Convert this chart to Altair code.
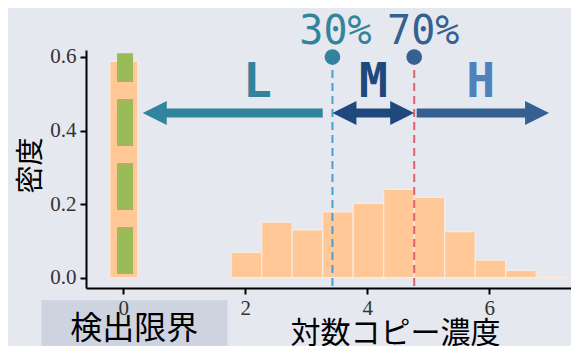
import altair as alt
import pandas as pd

# ---- data ----
bin_left = [1.77, 2.27, 2.77, 3.27, 3.77, 4.27, 4.77, 5.27, 5.77, 6.27, 6.77]
bin_density = [0.069, 0.151, 0.130, 0.179, 0.202, 0.240, 0.218, 0.125, 0.048, 0.020, 0.004]
bin_width = 0.5

lod_left = [-0.22]
lod_right = [0.24]
lod_density = [0.588]
lod_marker_x = [0.03]
lod_marker_bottom = [0.01]
lod_marker_top = [0.61]
lod_label = ["検出限界"]
lod_box_left = [-1.34]
lod_box_right = [1.71]
lod_label_x = [0.18]

pct_labels = ["30%", "70%"]
pct_values = [3.43, 4.77]
pct_marker_y = [0.6, 0.6]
pct_colors = ["#31849b", "#376092"]
pct_line_colors = ["#4a9fd6", "#e0606e"]
pct_label_dx = [3, 9]

region_labels = ["L", "M", "H"]
region_label_x = [2.2, 4.1, 5.86]
region_label_y = [0.492, 0.492, 0.492]
region_colors = ["#31849b", "#1f497d", "#4f81bd"]

arrow_from = [3.27, 3.43, 4.81]
arrow_to = [0.32, 4.77, 6.98]
arrow_y = [0.448, 0.448, 0.448]
arrow_double = [False, True, False]
arrow_colors = ["#31849b", "#1f497d", "#376092"]

x_ticks = [0, 2, 4, 6]
y_ticks = [0.0, 0.2, 0.4, 0.6]

BG = "#e5e8ef"
X_DOMAIN = [-0.61, 7.34]
Y_DOMAIN = [-0.028, 0.619]

xs = alt.Scale(domain=X_DOMAIN, nice=False, zero=False)
ys = alt.Scale(domain=Y_DOMAIN, nice=False, zero=False)

x_axis = alt.Axis(
    values=x_ticks, format="d", title="対数コピー濃度",
    titleFont="Noto Sans CJK JP", titleFontSize=30, titleFontWeight="normal",
    titleColor="black", titleX=309, titleY=54, titleAlign="center",
    titleBaseline="alphabetic",
    labelFont="Liberation Serif", labelFontSize=21, labelColor="#333333",
    labelPadding=3, domainColor="black", domainWidth=2, tickColor="black",
    tickWidth=2, tickSize=6, grid=False, zindex=1,
)
y_axis = alt.Axis(
    values=y_ticks, format=".1f", title="密度",
    titleFont="Noto Sans CJK JP", titleFontSize=28, titleFontWeight="normal",
    titleColor="black", titleAngle=270, titleX=-47, titleY=115,
    titleAlign="center", titleBaseline="alphabetic",
    labelFont="Liberation Serif", labelFontSize=21, labelColor="#333333",
    labelPadding=4, domainColor="black", domainWidth=2, tickColor="black",
    tickWidth=2, tickSize=6, grid=False, zindex=1,
)


def X(f):
    return alt.X(f"{f}:Q", scale=xs, axis=x_axis)


def Y(f):
    return alt.Y(f"{f}:Q", scale=ys, axis=y_axis)


layers = []

# detection-limit box below the axis
box_df = pd.DataFrame({"x0": lod_box_left, "x1": lod_box_right,
                       "y0": [Y_DOMAIN[0] - 0.033], "y1": [Y_DOMAIN[0] - 0.4],
                       "label": lod_label, "lx": lod_label_x,
                       "ly": [Y_DOMAIN[0] - 0.139]})
layers.append(alt.Chart(box_df).mark_rect(color="#cdd4e0").encode(
    x=X("x0"), x2="x1", y=Y("y0"), y2="y1"))
layers.append(alt.Chart(box_df).mark_text(
    font="Noto Sans CJK JP", fontSize=32, color="black",
    align="center", baseline="alphabetic").encode(
    x=X("lx"), y=Y("ly"), text="label:N"))

# histogram
hist_df = pd.DataFrame({"x0": bin_left,
                        "x1": [b + bin_width for b in bin_left],
                        "d": bin_density, "base": [0.0] * len(bin_left)})
layers.append(alt.Chart(hist_df).mark_rect(
    color="#ffc896", stroke="#f7ece2", strokeWidth=1.2).encode(
    x=X("x0"), x2="x1", y=Y("base"), y2="d"))

# zero (below detection limit) bar
zero_df = pd.DataFrame({"x0": lod_left, "x1": lod_right, "d": lod_density,
                        "base": [0.0]})
layers.append(alt.Chart(zero_df).mark_rect(
    color="#ffc896", stroke="#f7ece2", strokeWidth=1.2).encode(
    x=X("x0"), x2="x1", y=Y("base"), y2="d"))

# green dashed marker
mk_df = pd.DataFrame({"x": lod_marker_x, "y0": lod_marker_bottom,
                      "y1": lod_marker_top})
layers.append(alt.Chart(mk_df).mark_rule(
    color="#9bbb59", strokeWidth=16, strokeDash=[47, 17]).encode(
    x=X("x"), y=Y("y0"), y2="y1"))

# percentile lines, dots and labels
for lab, v, my, c, lc, dx in zip(pct_labels, pct_values, pct_marker_y,
                                 pct_colors, pct_line_colors, pct_label_dx):
    df = pd.DataFrame({"x": [v], "y": [my], "ybot": [Y_DOMAIN[0]],
                       "label": [lab]})
    layers.append(alt.Chart(df).mark_rule(
        color=lc, strokeWidth=2, strokeDash=[8, 5]).encode(
        x=X("x"), y=Y("y"), y2="ybot"))
    layers.append(alt.Chart(df).mark_circle(
        color=c, size=245, opacity=1).encode(x=X("x"), y=Y("y")))
    layers.append(alt.Chart(df).mark_text(
        font="DejaVu Sans Mono", fontSize=40, color=c, align="center",
        baseline="alphabetic", dx=dx, dy=-13).encode(
        x=X("x"), y=Y("y"), text="label:N"))

# arrows
HEAD_L = "M-1,0L1,-1L1,1Z"
HEAD_R = "M1,0L-1,-1L-1,1Z"
for a, b, y, dbl, c in zip(arrow_from, arrow_to, arrow_y, arrow_double,
                           arrow_colors):
    df = pd.DataFrame({"a": [a], "b": [b], "y": [y]})
    sgn = 1 if b > a else -1
    layers.append(alt.Chart(df).mark_rule(
        color=c, strokeWidth=9, x2Offset=-12 * sgn,
        xOffset=(12 * sgn if dbl else 0)).encode(
        x=X("a"), x2="b", y=Y("y")))
    layers.append(alt.Chart(df).mark_point(
        shape=HEAD_R if sgn > 0 else HEAD_L, filled=True, fill=c,
        strokeWidth=0, size=576, opacity=1, xOffset=-12 * sgn).encode(
        x=X("b"), y=Y("y")))
    if dbl:
        layers.append(alt.Chart(df).mark_point(
            shape=HEAD_L if sgn > 0 else HEAD_R, filled=True, fill=c,
            strokeWidth=0, size=576, opacity=1, xOffset=12 * sgn).encode(
            x=X("a"), y=Y("y")))

# region labels
for lab, lx, ly, c in zip(region_labels, region_label_x, region_label_y,
                          region_colors):
    df = pd.DataFrame({"x": [lx], "y": [ly], "label": [lab]})
    layers.append(alt.Chart(df).mark_text(
        font="DejaVu Sans Mono", fontWeight="bold", fontSize=48, color=c,
        align="center", baseline="alphabetic").encode(
        x=X("x"), y=Y("y"), text="label:N"))

chart = alt.layer(*layers).properties(
    width=485, height=238,
    autosize=alt.AutoSizeParams(type="none"),
    padding={"left": 78, "top": 42, "right": 0, "bottom": 58},
    background=BG,
).configure_view(stroke=None)

chart.save("out.html", embed_options={"renderer": "svg", "actions": False})
